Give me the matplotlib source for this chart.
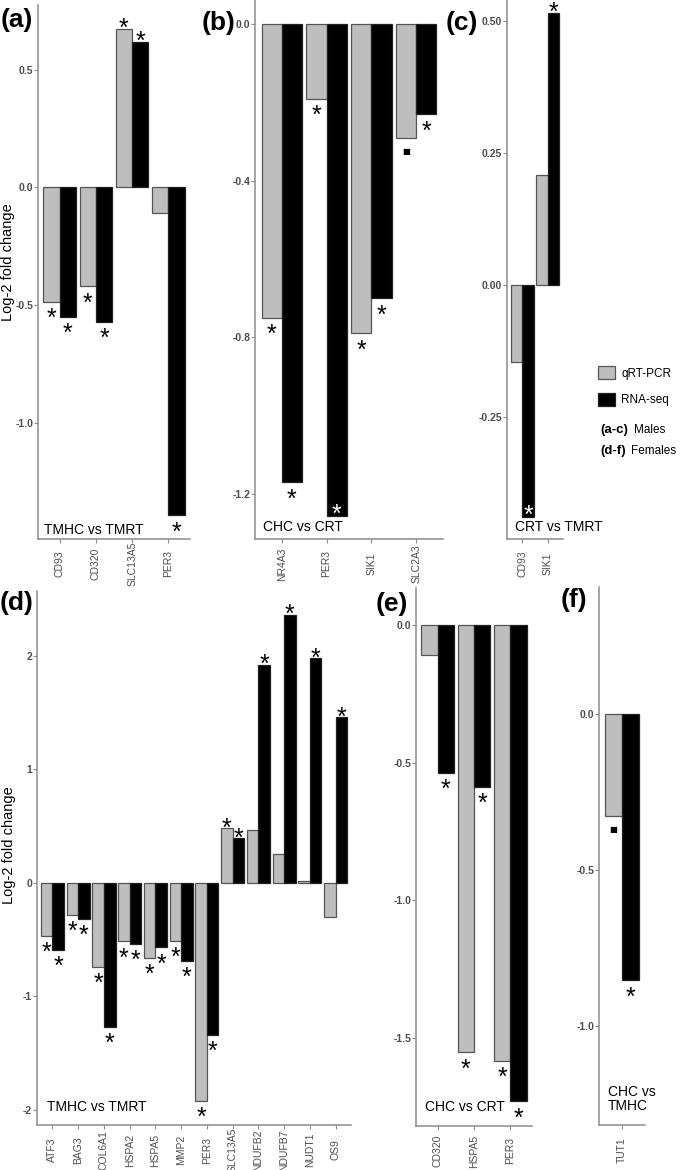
import matplotlib
matplotlib.use("Agg")
import matplotlib.pyplot as plt
from matplotlib.patches import Patch
import numpy as np

plt.rcParams['axes.unicode_minus'] = False
plt.rcParams['font.family'] = ['Liberation Sans', 'DejaVu Sans']

W, H, DPI = 685, 1170, 100

# ---------------- data ----------------
genes_a = ["CD93", "CD320", "SLC13A5", "PER3"]
qpcr_a = [-0.485, -0.42, 0.674, -0.109]
rnaseq_a = [-0.549, -0.571, 0.617, -1.39]
sig_qpcr_a = ["*", "*", "*", ""]
sig_rnaseq_a = ["*", "*", "*", "*"]

genes_b = ["NR4A3", "PER3", "SIK1", "SLC2A3"]
qpcr_b = [-0.75, -0.19, -0.79, -0.29]
rnaseq_b = [-1.17, -1.255, -0.70, -0.23]
sig_qpcr_b = ["*", "*", "*", "."]
sig_rnaseq_b = ["*", "*", "*", "*"]

genes_c = ["CD93", "SIK1"]
qpcr_c = [-0.146, 0.209]
rnaseq_c = [-0.438, 0.515]
sig_qpcr_c = ["", ""]
sig_rnaseq_c = ["*", "*"]

genes_d = ["ATF3", "BAG3", "COL6A1", "HSPA2", "HSPA5", "MMP2", "PER3",
           "SLC13A5", "NDUFB2", "NDUFB7", "NUDT1", "OS9"]
qpcr_d = [-0.47, -0.28, -0.74, -0.515, -0.66, -0.51, -1.92,
          0.478, 0.46, 0.25, 0.013, -0.306]
rnaseq_d = [-0.59, -0.32, -1.27, -0.54, -0.57, -0.69, -1.34,
            0.39, 1.916, 2.357, 1.976, 1.455]
sig_qpcr_d = ["*"] * 8 + [""] * 4
sig_rnaseq_d = ["*"] * 12

genes_e = ["CD320", "HSPA5", "PER3"]
qpcr_e = [-0.109, -1.553, -1.584]
rnaseq_e = [-0.537, -0.588, -1.731]
sig_qpcr_e = ["", "*", "*"]
sig_rnaseq_e = ["*", "*", "*"]

genes_f = ["TUT1"]
qpcr_f = [-0.328]
rnaseq_f = [-0.855]
sig_qpcr_f = ["."]
sig_rnaseq_f = ["*"]

# ---------------- style / layout ----------------
GREY = "#BEBEBE"
EDGE = "#555555"
AXCOL = "#8C8C8C"
TXTCOL = "#4D4D4D"
NARROW = ['Liberation Sans Narrow', 'Liberation Sans', 'DejaVu Sans']

# asterisks drawn in white inside the bar end (panel, gene index)
inside_marks = {("b", 1), ("c", 0)}

panels = [
    # key, genes, qpcr, rnaseq, sig q, sig r, pixel box (l, t, r, b), ylim, yticks, fmt, title, title px offset
    ("a", genes_a, qpcr_a, rnaseq_a, sig_qpcr_a, sig_rnaseq_a, (38, 5, 190, 539),
     (-1.491, 0.774), [-1.0, -0.5, 0.0, 0.5], "%.1f", "TMHC vs TMRT", (6, 9)),
    ("b", genes_b, qpcr_b, rnaseq_b, sig_qpcr_b, sig_rnaseq_b, (255, 0, 443, 539),
     (-1.315, 0.062), [-1.2, -0.8, -0.4, 0.0], "%.1f", "CHC vs CRT", (8, 12)),
    ("c", genes_c, qpcr_c, rnaseq_c, sig_qpcr_c, sig_rnaseq_c, (507, -12.6, 563, 539),
     (-0.4805, 0.563), [-0.25, 0.0, 0.25, 0.50], "%.2f", "CRT vs TMRT", (8, 12)),
    ("d", genes_d, qpcr_d, rnaseq_d, sig_qpcr_d, sig_rnaseq_d, (37, 591, 351, 1125),
     (-2.133, 2.568), [-2, -1, 0, 1, 2], "%d", "TMHC vs TMRT", (10, 18)),
    ("e", genes_e, qpcr_e, rnaseq_e, sig_qpcr_e, sig_rnaseq_e, (416, 588, 532, 1126),
     (-1.82, 0.134), [-1.5, -1.0, -0.5, 0.0], "%.1f", "CHC vs CRT", (9, 19)),
    ("f", genes_f, qpcr_f, rnaseq_f, sig_qpcr_f, sig_rnaseq_f, (599, 587, 645, 1125),
     (-1.319, 0.406), [-1.0, -0.5, 0.0], "%.1f", "CHC vs\nTMHC", (9, 26)),
]

label_pos = {"a": (1, 8), "b": (202, 11), "c": (446, 11),
             "d": (0, 591), "e": (376, 592), "f": (561, 588)}


def mark(ax, x, v, lab, inside=False):
    if not lab:
        return
    if lab == "*":
        fs = 18
        c = 0.57 * fs * DPI / 72.0          # glyph centre above baseline (px)
        if inside:
            dy = 8 - c if v < 0 else -8 - c
            col = "white"
        elif v < 0:
            dy = -10 - c
            col = "black"
        else:
            dy = 7 - c
            col = "black"
        ax.annotate("*", xy=(x, v), xytext=(0, dy), textcoords="offset pixels",
                    ha="center", va="baseline", fontsize=fs, color=col,
                    family="Liberation Sans", annotation_clip=False)
    else:
        dy = -14 if v < 0 else 14
        ax.annotate("\u25A0", xy=(x, v), xytext=(0, dy), textcoords="offset pixels",
                    ha="center", va="center", fontsize=6, color="black",
                    family="DejaVu Sans", annotation_clip=False)


fig = plt.figure(figsize=(W / DPI, H / DPI), dpi=DPI)

for key, genes, q, r, sq, sr, (l, t, rr, b), ylim, yt, fmt, title, (tx, ty) in panels:
    ax = fig.add_axes([l / W, 1 - b / H, (rr - l) / W, (b - t) / H])
    x = np.arange(len(genes))
    w = 0.45
    ax.bar(x - w / 2, q, w, color=GREY, edgecolor=EDGE, linewidth=0.9)
    ax.bar(x + w / 2, r, w, color="black", edgecolor="#222222", linewidth=0.9)
    ax.set_xlim(-0.6, len(genes) - 0.4)
    ax.set_ylim(*ylim)
    ax.set_yticks(yt)
    ax.set_yticklabels([fmt % v for v in yt], color=TXTCOL, fontsize=7.5,
                       fontweight="bold", family=NARROW)
    ax.set_xticks(x)
    ax.set_xticklabels(genes, rotation=90, va="center", ha="center",
                       color=TXTCOL, fontsize=7.5, family=NARROW)
    ax.tick_params(axis="y", length=3, width=0.8, color=AXCOL, pad=0.5)
    ax.tick_params(axis="x", length=3, width=0.8, color=AXCOL, pad=15)
    for s in ("top", "right"):
        ax.spines[s].set_visible(False)
    for s in ("left", "bottom"):
        ax.spines[s].set_color(AXCOL)
        ax.spines[s].set_linewidth(1.1)
    ax.patch.set_alpha(0)

    for i in range(len(genes)):
        mark(ax, x[i] - w / 2, q[i], sq[i])
        mark(ax, x[i] + w / 2, r[i], sr[i], inside=(key, i) in inside_marks)

    ax.annotate(title, xy=(0, 0), xycoords="axes fraction", xytext=(tx, ty),
                textcoords="offset pixels", ha="left", va="center",
                fontsize=10, linespacing=1.05, annotation_clip=False)

    lx, ly = label_pos[key]
    fig.text(lx / W, 1 - ly / H, "(%s)" % key, ha="left", va="top",
             fontsize=19, fontweight="bold")

# y axis titles
fig.text(8 / W, 1 - 262 / H, "Log-2 fold change", rotation=90,
         ha="center", va="center", fontsize=10.5)
fig.text(9 / W, 1 - 845 / H, "Log-2 fold change", rotation=90,
         ha="center", va="center", fontsize=10.5)

# legend
handles = [Patch(facecolor=GREY, edgecolor=EDGE, linewidth=0.9),
           Patch(facecolor="black", edgecolor="#222222", linewidth=0.9)]
fig.legend(handles, ["qRT-PCR", "RNA-seq"], loc="upper left",
           bbox_to_anchor=(598 / W, 1 - 366 / H), frameon=False, fontsize=8.5,
           handlelength=1.45, handleheight=1.35, handletextpad=0.5,
           labelspacing=1.1, borderpad=0, borderaxespad=0)
fig.text(600 / W, 1 - 430 / H, "(a-c)", fontweight="bold", fontsize=9.5, va="center")
fig.text(634 / W, 1 - 430 / H, "Males", fontsize=8.5, va="center")
fig.text(600 / W, 1 - 451 / H, "(d-f)", fontweight="bold", fontsize=9.5, va="center")
fig.text(631 / W, 1 - 451 / H, "Females", fontsize=8.5, va="center")

fig.savefig("out.png", dpi=DPI)
